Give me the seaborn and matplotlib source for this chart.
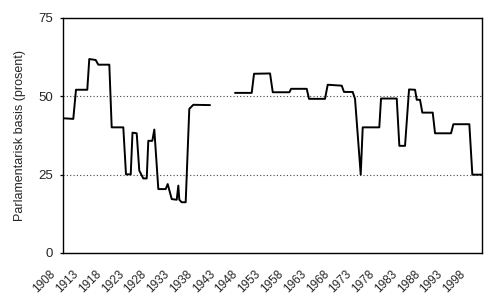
import matplotlib
matplotlib.use("Agg")
import matplotlib.pyplot as plt
from matplotlib.transforms import ScaledTranslation
import seaborn as sns
import pandas as pd

# Parliamentary basis of Norwegian governments (percent of seats)
years_pre = [1908.00, 1910.26, 1910.85, 1913.33, 1913.77, 1915.18, 1915.75, 1918.17,
             1918.69, 1921.24, 1921.83, 1922.87, 1923.26, 1924.18, 1924.75, 1925.63,
             1926.38, 1926.73, 1927.61, 1928.05, 1928.93, 1930.55, 1930.99, 1931.87,
             1932.97, 1933.32, 1933.54, 1934.06, 1934.94, 1935.73, 1936.61, 1940.28]
share_pre = [43.0, 42.8, 52.1, 52.1, 61.9, 61.6, 60.1, 60.1,
             40.1, 40.1, 25.1, 25.1, 38.4, 38.2, 26.3, 23.8,
             23.8, 35.8, 35.8, 39.4, 20.4, 20.4, 22.0, 17.2,
             17.0, 21.5, 17.0, 16.2, 16.2, 46.0, 47.3, 47.2]

years_post = [1945.77, 1949.44, 1949.94, 1953.46, 1954.06, 1957.71, 1958.08, 1961.51,
              1962.02, 1965.53, 1966.12, 1969.20, 1969.70, 1971.61, 1972.12, 1973.37,
              1973.81, 1977.45, 1977.83, 1981.28, 1981.85, 1983.10, 1983.98, 1985.30,
              1985.67, 1986.39, 1986.90, 1989.18, 1989.69, 1993.20, 1993.71, 1997.22,
              1997.88, 2000.00]
share_post = [51.1, 51.1, 57.2, 57.3, 51.3, 51.3, 52.4, 52.4,
              49.2, 49.2, 53.7, 53.4, 51.4, 51.4, 49.2, 25.0,
              40.1, 40.1, 49.3, 49.3, 34.2, 34.2, 52.2, 52.1,
              48.9, 48.9, 44.8, 44.8, 38.2, 38.2, 41.1, 41.1,
              25.0, 25.0]

xtick_years = list(range(1908, 1999, 5))
ytick_values = [0, 25, 50, 75]
ylabel_text = "Parlamentarisk basis (prosent)"

df = pd.concat([
    pd.DataFrame({"year": years_pre, "share": share_pre, "period": "pre"}),
    pd.DataFrame({"year": years_post, "share": share_post, "period": "post"}),
], ignore_index=True)

sns.set_style("white")
plt.rcParams["font.family"] = ["Liberation Sans", "DejaVu Sans"]

fig = plt.figure(figsize=(5.0, 3.05), dpi=100)
ax = fig.add_axes([0.126, 0.1705, 0.838, 0.7705])

sns.lineplot(data=df, x="year", y="share", units="period", estimator=None,
             color="black", linewidth=1.4, ax=ax, legend=False)

ax.set_xlim(1908, 2000)
ax.set_ylim(0, 75)
ax.set_xticks(xtick_years)
ax.set_xticklabels([str(y) for y in xtick_years], rotation=45, ha="right", fontsize=8.5)
ax.set_yticks(ytick_values)
ax.set_yticklabels([str(v) for v in ytick_values], fontsize=9.5)
ax.set_xlabel("")
ax.set_ylabel(ylabel_text, fontsize=9, labelpad=9)

ax.tick_params(axis="x", length=0, pad=11)
ax.tick_params(axis="y", length=2, width=0.9, direction="out", pad=5, left=True, color="black")

offset = ScaledTranslation(-5 / 100, 0, fig.dpi_scale_trans)
for lab in ax.get_xticklabels():
    lab.set_transform(lab.get_transform() + offset)

ax.yaxis.grid(True, linestyle=(0, (1, 2)), color="#444444", linewidth=0.8)
ax.xaxis.grid(False)
for s in ax.spines.values():
    s.set_visible(True)
    s.set_color("black")
    s.set_linewidth(1.0)

fig.savefig("out.png", dpi=100, facecolor="white")
